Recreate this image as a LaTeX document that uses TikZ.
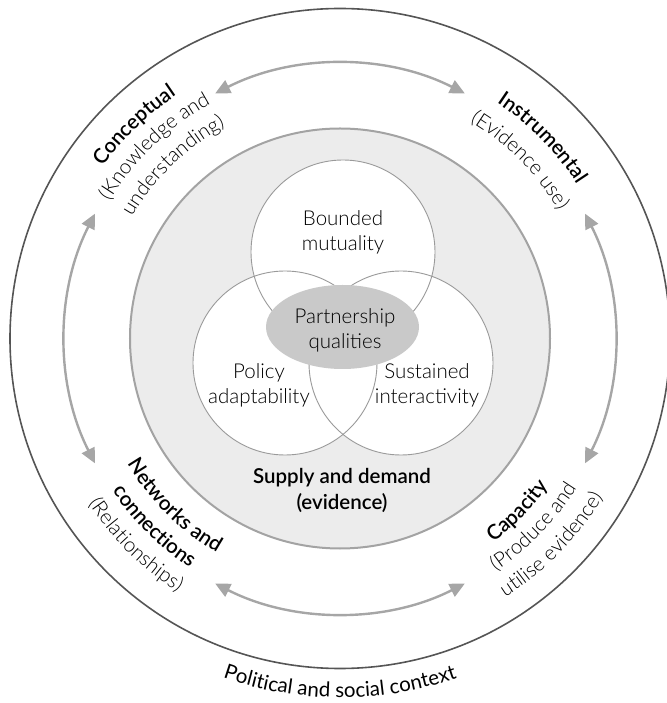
\documentclass[tikz,border=0pt]{standalone}
\usepackage{fontspec}
\setmainfont{Lato}
\newfontfamily\lightf{Lato Light}
\newfontfamily\semif{Lato Semibold}
\usetikzlibrary{arrows.meta,decorations.text}
\definecolor{outerc}{HTML}{555555}
\definecolor{arrowc}{HTML}{A6A6A6}
\definecolor{ringc}{HTML}{A3A3A3}
\definecolor{ringfill}{HTML}{ECECEC}
\definecolor{vennc}{HTML}{9A9A9A}
\definecolor{ellfill}{HTML}{C9C9C9}
\newcommand\LF{\lightf\fontsize{20.5}{25}\selectfont\color{black}}
\newcommand\BF{\semif\fontsize{20.5}{26}\selectfont\color{black}}
\newcommand\RF{\fontsize{20.5}{25}\selectfont\color{black}}
% clockwise text (tops outward): font, angle, radius, text
\newcommand\cwtext[4]{{#1\path[decorate,decoration={text along path,text align=center,text={#4}}] ({#2+60}:#3) arc[start angle={#2+60},end angle={#2-60},radius=#3];}}
% counter-clockwise text (tops inward)
\newcommand\ccwtext[4]{{#1\path[decorate,decoration={text along path,text align=center,text={#4}}] ({#2-60}:#3) arc[start angle={#2-60},end angle={#2+60},radius=#3];}}
\begin{document}
\begin{tikzpicture}[x=1pt,y=1pt,
  cyc/.style={line width=2.4pt,draw=arrowc,{Triangle[length=15pt,width=14pt]}-{Triangle[length=15pt,width=14pt]}},
  lbl/.style={font=\LF,align=center},
  blbl/.style={font=\BF,align=center},
  venn/.style={draw=vennc,line width=0.9pt}]
\useasboundingbox (-340,-364.5) rectangle (326,338.5);
% outer ring
\draw[draw=outerc,line width=1.6pt] (0,0) circle[radius=330pt];
% grey circle
\draw[draw=ringc,fill=ringfill,line width=2pt] (0,0) circle[radius=210pt];
% venn circles
\fill[white] (3,86.5) circle[radius=92pt];
\fill[white] (-55,-24.5) circle[radius=92pt];
\fill[white] (61,-24.5) circle[radius=92pt];
\draw[venn] (3,86.5) circle[radius=92pt];
\draw[venn] (-55,-24.5) circle[radius=92pt];
\draw[venn] (61,-24.5) circle[radius=92pt];
\fill[ellfill] (2.5,11.5) ellipse[x radius=76.5pt,y radius=42pt];
% texts
\node[lbl] (bm) at (3,106.5) {Bounded\\mutuality};
\node[lbl] (pq) at (5,8.5) {Partnership\\qualities};
\node[lbl] (pa) at (-81,-46.5) {Policy\\adaptability};
\node[lbl] (si) at (87,-46.5) {Sustained\\interactivity};
\node[blbl] (sd) at (2,-151.5) {Supply and demand\\(evidence)};
% arrows
\coordinate (t1) at (117:275pt); \coordinate (t2) at (63:275pt);
\coordinate (l1) at (153:275pt); \coordinate (l2) at (207:275pt);
\coordinate (b1) at (243:275pt); \coordinate (b2) at (297:275pt);
\coordinate (r1) at (27:275pt);  \coordinate (r2) at (-27:275pt);
\draw[cyc] (t1) arc[start angle=117,end angle=63,radius=275pt];
\draw[cyc] (l1) arc[start angle=153,end angle=207,radius=275pt];
\draw[cyc] (b1) arc[start angle=243,end angle=297,radius=275pt];
\draw[cyc] (r1) arc[start angle=27,end angle=-27,radius=275pt];
% ring labels
\cwtext{\BF}{134}{293}{Conceptual}
\cwtext{\LF}{134}{268}{(Knowledge and}
\cwtext{\LF}{134}{241}{understanding)}
\cwtext{\BF}{44.7}{283}{Instrumental}
\cwtext{\LF}{44.7}{253}{(Evidence use)}
\ccwtext{\BF}{225.3}{247}{Networks and}
\ccwtext{\BF}{225.3}{274}{connections}
\ccwtext{\LF}{225.3}{301}{(Relationships)}
\ccwtext{\BF}{315.8}{255}{Capacity}
\ccwtext{\LF}{315.8}{280}{(Produce and}
\ccwtext{\LF}{315.8}{307}{utilise evidence)}
\ccwtext{\RF}{270}{359}{Political and social context}
\end{tikzpicture}
\end{document}
